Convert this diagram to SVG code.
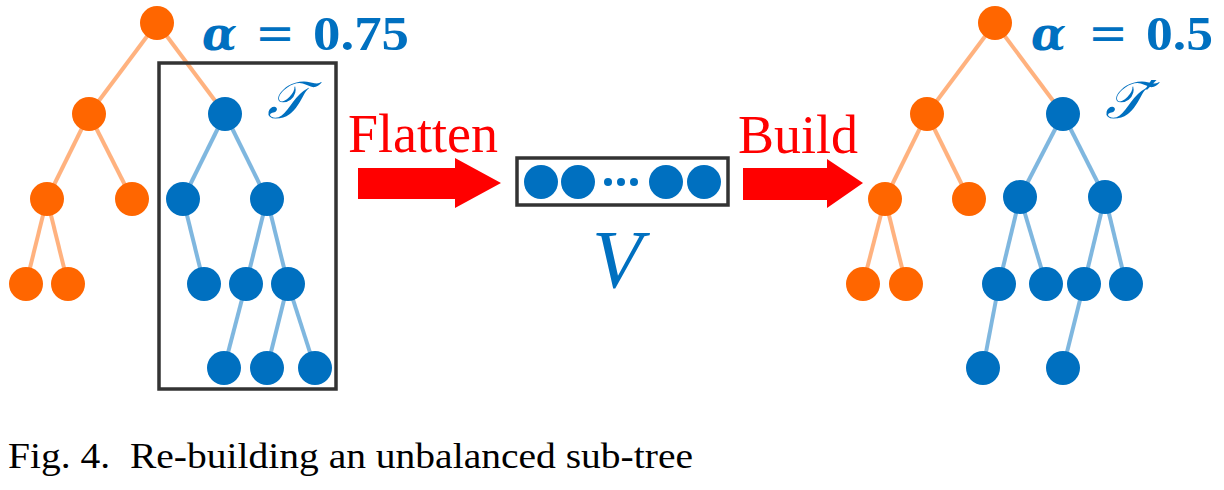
<svg xmlns="http://www.w3.org/2000/svg" width="1224" height="490" viewBox="0 0 1224 490">
<style>
.o{fill:#FF6600}
.b{fill:#0070C0}
.eo{stroke:#FF6600;stroke-opacity:0.5;stroke-width:4;fill:none}
.eb{stroke:#0070C0;stroke-opacity:0.5;stroke-width:4;fill:none}
.box{fill:none;stroke:#333;stroke-width:3.5}
.arrow{fill:#FF0000}
.lbl{font-family:"Liberation Serif",serif;fill:#FF0000;font-size:54px}
.al{font-family:"DejaVu Serif",serif;fill:#0070C0;font-weight:bold;font-style:italic;font-size:46px}
.eq{font-family:"DejaVu Serif",serif;fill:#0070C0;font-size:48px}
.num{font-family:"Liberation Serif",serif;fill:#0070C0;font-weight:bold;font-size:48px}
.cal{font-family:"DejaVu Serif","Noto Sans",serif;fill:#0070C0;font-size:52px;font-style:italic}
.cap{font-family:"Liberation Serif",serif;fill:#000;font-size:36px}
</style>
<rect width="1224" height="490" fill="#fff"/>
<g id="connectors">
<line class="eo" x1="157" y1="23" x2="89" y2="114"/>
<line class="eo" x1="157" y1="23" x2="225" y2="114"/>
<line class="eo" x1="89" y1="114" x2="47" y2="199"/>
<line class="eo" x1="89" y1="114" x2="132" y2="199"/>
<line class="eo" x1="47" y1="199" x2="26" y2="284"/>
<line class="eo" x1="47" y1="199" x2="68" y2="284"/>
<line class="eb" x1="225" y1="114" x2="183" y2="199"/>
<line class="eb" x1="225" y1="114" x2="267" y2="199"/>
<line class="eb" x1="183" y1="199" x2="204" y2="284"/>
<line class="eb" x1="267" y1="199" x2="246" y2="284"/>
<line class="eb" x1="267" y1="199" x2="288" y2="284"/>
<line class="eb" x1="246" y1="284" x2="224" y2="368"/>
<line class="eb" x1="288" y1="284" x2="267" y2="368"/>
<line class="eb" x1="288" y1="284" x2="315" y2="368"/>
<line class="eo" x1="995" y1="23" x2="927" y2="114"/>
<line class="eo" x1="995" y1="23" x2="1063" y2="114"/>
<line class="eo" x1="927" y1="114" x2="885" y2="199"/>
<line class="eo" x1="927" y1="114" x2="969" y2="199"/>
<line class="eo" x1="885" y1="199" x2="863" y2="284"/>
<line class="eo" x1="885" y1="199" x2="906" y2="284"/>
<line class="eb" x1="1063" y1="114" x2="1020" y2="197"/>
<line class="eb" x1="1063" y1="114" x2="1105" y2="197"/>
<line class="eb" x1="1020" y1="197" x2="999" y2="284"/>
<line class="eb" x1="1020" y1="197" x2="1046" y2="284"/>
<line class="eb" x1="1105" y1="197" x2="1084" y2="284"/>
<line class="eb" x1="1105" y1="197" x2="1126" y2="284"/>
<line class="eb" x1="999" y1="284" x2="983" y2="368"/>
<line class="eb" x1="1084" y1="284" x2="1063" y2="368"/>
</g>
<g id="box-T"><rect class="box" x="159" y="63" width="177" height="326"/></g>
<g id="left-tree">
<circle class="o" cx="157" cy="23" r="17"/>
<circle class="o" cx="89" cy="114" r="17"/>
<circle class="b" cx="225" cy="114" r="17"/>
<circle class="o" cx="47" cy="199" r="17"/>
<circle class="o" cx="132" cy="199" r="17"/>
<circle class="b" cx="183" cy="199" r="17"/>
<circle class="b" cx="267" cy="199" r="17"/>
<circle class="o" cx="26" cy="284" r="17"/>
<circle class="o" cx="68" cy="284" r="17"/>
<circle class="b" cx="204" cy="284" r="17"/>
<circle class="b" cx="246" cy="284" r="17"/>
<circle class="b" cx="288" cy="284" r="17"/>
<circle class="b" cx="224" cy="368" r="17"/>
<circle class="b" cx="267" cy="368" r="17"/>
<circle class="b" cx="315" cy="368" r="17"/>
</g>
<g id="alpha-left">
<text class="al" x="202" y="50" textLength="35" lengthAdjust="spacingAndGlyphs">α</text>
<text class="eq" x="255" y="50" textLength="40" lengthAdjust="spacingAndGlyphs">=</text>
<text class="num" x="313" y="50" textLength="96" lengthAdjust="spacingAndGlyphs">0.75</text>
</g>
<g id="label-T"><text class="cal" x="267" y="118">𝒯</text></g>
<g id="flatten">
<text class="lbl" x="348" y="152">Flatten</text>
<polygon class="arrow" points="358,168 455,168 455,158 501,183 455,208 455,199 358,199"/>
</g>
<g id="vector-V">
<rect class="box" x="517" y="158" width="211" height="47"/>
<circle class="b" cx="541" cy="182" r="17"/>
<circle class="b" cx="578" cy="182" r="17"/>
<circle class="b" cx="608" cy="182" r="4"/>
<circle class="b" cx="621" cy="182" r="4"/>
<circle class="b" cx="634" cy="182" r="4"/>
<circle class="b" cx="666" cy="182" r="17"/>
<circle class="b" cx="704" cy="182" r="17"/>
<text font-family="Liberation Serif,serif" font-style="italic" font-size="82" fill="#0070C0" x="592" y="287">V</text>
</g>
<g id="build">
<text class="lbl" x="738" y="153">Build</text>
<polygon class="arrow" points="743,168 827,168 827,159 863,183 827,208 827,200 743,200"/>
</g>
<g id="right-tree">
<circle class="o" cx="995" cy="23" r="17"/>
<circle class="o" cx="927" cy="114" r="17"/>
<circle class="b" cx="1063" cy="114" r="17"/>
<circle class="o" cx="885" cy="199" r="17"/>
<circle class="o" cx="969" cy="199" r="17"/>
<circle class="b" cx="1020" cy="197" r="17"/>
<circle class="b" cx="1105" cy="197" r="17"/>
<circle class="o" cx="863" cy="284" r="17"/>
<circle class="o" cx="906" cy="284" r="17"/>
<circle class="b" cx="999" cy="284" r="17"/>
<circle class="b" cx="1046" cy="284" r="17"/>
<circle class="b" cx="1084" cy="284" r="17"/>
<circle class="b" cx="1126" cy="284" r="17"/>
<circle class="b" cx="983" cy="368" r="17"/>
<circle class="b" cx="1063" cy="368" r="17"/>
</g>
<g id="alpha-right">
<text class="al" x="1031" y="50" textLength="35" lengthAdjust="spacingAndGlyphs">α</text>
<text class="eq" x="1088" y="50" textLength="40" lengthAdjust="spacingAndGlyphs">=</text>
<text class="num" x="1146" y="50" textLength="67" lengthAdjust="spacingAndGlyphs">0.5</text>
</g>
<g id="label-Tprime"><text class="cal" x="1105" y="118">𝒯′</text></g>
<g id="caption"><text class="cap" x="8" y="468" xml:space="preserve" textLength="685" lengthAdjust="spacingAndGlyphs">Fig. 4.  Re-building an unbalanced sub-tree</text></g>
</svg>
